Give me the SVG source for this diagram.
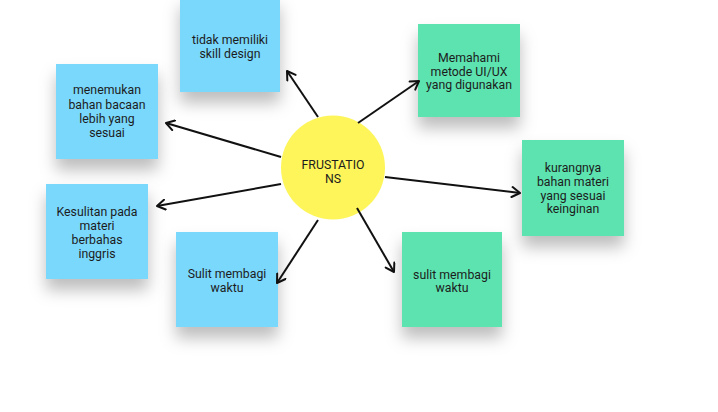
<svg xmlns="http://www.w3.org/2000/svg" width="718" height="412" viewBox="0 0 718 412">
  <defs>
    <filter id="shadow" x="-40%" y="-40%" width="180%" height="190%">
      <feDropShadow dx="0" dy="11" stdDeviation="8" flood-color="#000" flood-opacity="0.26"/>
    </filter>
    <marker id="arrow" viewBox="0 0 12 12" refX="10" refY="6" markerWidth="12" markerHeight="12" markerUnits="userSpaceOnUse" orient="auto">
      <path d="M2,1 L10,6 L2,11" fill="none" stroke="#111" stroke-width="2" stroke-linecap="round" stroke-linejoin="round"/>
    </marker>
    <style>
      .blue { fill: #7ad8fd; filter: url(#shadow); }
      .green { fill: #5be3b0; filter: url(#shadow); }
      .lbl { font-family: Roboto, "Liberation Sans", sans-serif; font-size: 12.3px; fill: #1c1c1c; text-anchor: middle; }
      .conn line { stroke: #111; stroke-width: 2; marker-end: url(#arrow); }
    </style>
  </defs>
  <rect width="718" height="412" fill="#ffffff"/>

  <g id="node-skill">
    <rect class="blue" x="180" y="-4" width="100" height="96"/>
    <text class="lbl" x="230" y="44">tidak memiliki</text>
    <text class="lbl" x="230" y="58">skill design</text>
  </g>
  <g id="node-bahan">
    <rect class="blue" x="56" y="64" width="102" height="95"/>
    <text class="lbl" x="107" y="94">menemukan</text>
    <text class="lbl" x="107" y="109">bahan bacaan</text>
    <text class="lbl" x="107" y="123">lebih yang</text>
    <text class="lbl" x="107" y="137">sesuai</text>
  </g>
  <g id="node-kesulitan">
    <rect class="blue" x="46" y="184" width="102" height="95"/>
    <text class="lbl" x="97" y="216">Kesulitan pada</text>
    <text class="lbl" x="97" y="230">materi</text>
    <text class="lbl" x="97" y="244">berbahas</text>
    <text class="lbl" x="97" y="258">inggris</text>
  </g>
  <g id="node-sulit-blue">
    <rect class="blue" x="176" y="232" width="102" height="95"/>
    <text class="lbl" x="227" y="278">Sulit membagi</text>
    <text class="lbl" x="227" y="292">waktu</text>
  </g>
  <g id="node-center">
    <circle cx="333" cy="167.5" r="52" fill="#fdf55a"/>
    <text class="lbl" x="333" y="169">FRUSTATIO</text>
    <text class="lbl" x="333" y="183">NS</text>
  </g>
  <g id="node-memahami">
    <rect class="green" x="418" y="24" width="102" height="93"/>
    <text class="lbl" x="469" y="62">Memahami</text>
    <text class="lbl" x="469" y="76">metode UI/UX</text>
    <text class="lbl" x="469" y="89">yang digunakan</text>
  </g>
  <g id="node-kurangnya">
    <rect class="green" x="522" y="140" width="102" height="96"/>
    <text class="lbl" x="573" y="172">kurangnya</text>
    <text class="lbl" x="573" y="186">bahan materi</text>
    <text class="lbl" x="573" y="200">yang sesuai</text>
    <text class="lbl" x="573" y="213">keinginan</text>
  </g>
  <g id="node-sulit-green">
    <rect class="green" x="402" y="232" width="100" height="95"/>
    <text class="lbl" x="452" y="279">sulit membagi</text>
    <text class="lbl" x="452" y="292">waktu</text>
  </g>

  <g id="connectors" class="conn">
    <line x1="318" y1="117" x2="287" y2="71"/>
    <line x1="281" y1="157" x2="166" y2="123"/>
    <line x1="281" y1="184" x2="157" y2="206"/>
    <line x1="318" y1="220" x2="277" y2="283"/>
    <line x1="358" y1="123" x2="419" y2="81"/>
    <line x1="385" y1="177" x2="520" y2="193"/>
    <line x1="357" y1="208" x2="394" y2="272"/>
  </g>
</svg>
